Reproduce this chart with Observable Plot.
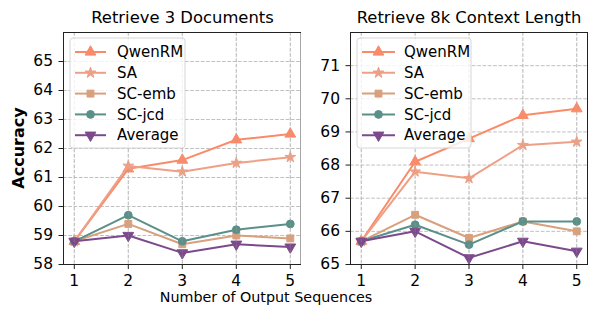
<!DOCTYPE html>
<html><head><meta charset="utf-8">
<script src="https://cdn.jsdelivr.net/npm/d3@7"></script>
<script src="https://cdn.jsdelivr.net/npm/@observablehq/plot@0.6"></script>
<style>
body{margin:0;background:#fff;font-family:"DejaVu Sans",sans-serif;}
#wrap{position:relative;width:598px;height:316px;overflow:hidden;}
#wrap > svg, #wrap > div{position:absolute;}
.t{position:absolute;font-size:15px;line-height:1;color:#000;white-space:nowrap;}
</style></head>
<body><div id="wrap"></div>
<script>
const xs = [1, 2, 3, 4, 5];
const seriesNames = ["QwenRM", "SA", "SC-emb", "SC-jcd", "Average"];
const colors = ["#fb8a68", "#eea086", "#d8a07c", "#5b9089", "#7c4a8c"];
const symbols = ["triangle", "star", "square", "circle", "triangle"];
const rotations = [0, 0, 0, 0, 180];
const radii = [4.0, 3.4, 3.9, 3.9, 4.0];

// Retrieve 3 Documents
const docs_QwenRM = [58.8, 61.3, 61.6, 62.3, 62.5];
const docs_SA     = [58.8, 61.4, 61.2, 61.5, 61.7];
const docs_SCemb  = [58.8, 59.4, 58.7, 59.0, 58.9];
const docs_SCjcd  = [58.8, 59.7, 58.8, 59.2, 59.4];
const docs_Avg    = [58.8, 59.0, 58.4, 58.7, 58.6];
// Retrieve 8k Context Length
const ctx_QwenRM = [65.7, 68.1, 68.8, 69.5, 69.7];
const ctx_SA     = [65.7, 67.8, 67.6, 68.6, 68.7];
const ctx_SCemb  = [65.7, 66.5, 65.8, 66.3, 66.0];
const ctx_SCjcd  = [65.7, 66.2, 65.6, 66.3, 66.3];
const ctx_Avg    = [65.7, 66.0, 65.2, 65.7, 65.4];

const titles = ["Retrieve 3 Documents", "Retrieve 8k Context Length"];
const yTicksDocs = [58, 59, 60, 61, 62, 63, 64, 65];
const yTicksCtx = [65, 66, 67, 68, 69, 70, 71];
const xLabel = "Number of Output Sequences";
const yLabel = "Accuracy";

function rows(arrs) {
  const out = [];
  arrs.forEach((a, i) => a.forEach((v, j) => out.push({s: seriesNames[i], i, x: xs[j], y: v})));
  return out;
}

function panel(data, yDomain, yTicks, opts) {
  const marks = [];
  marks.push(Plot.gridX(xs, {stroke: "#b0b0b0", strokeOpacity: 1, strokeDasharray: "3.7,1.6", strokeWidth: 0.8}));
  marks.push(Plot.gridY(yTicks, {stroke: "#b0b0b0", strokeOpacity: 1, strokeDasharray: "3.7,1.6", strokeWidth: 0.8}));
  seriesNames.forEach((n, i) => {
    const d = data.filter(r => r.i === i);
    marks.push(Plot.line(d, {x: "x", y: "y", stroke: colors[i], strokeWidth: 2}));
    marks.push(Plot.dot(d, {x: "x", y: "y", fill: colors[i], stroke: colors[i], strokeWidth: 1,
      symbol: () => symbols[i], rotate: rotations[i], r: radii[i]}));
  });
  marks.push(Plot.gridX(xs, {stroke: "#b0b0b0", strokeOpacity: 0.35, strokeDasharray: "3.7,1.6", strokeWidth: 0.8}));
  marks.push(Plot.frame({stroke: "#222", strokeWidth: 1}));
  marks.push(Plot.axisX(xs, {tickSize: 5, tickPadding: 5, fontSize: 15.5, label: null, stroke: "#222", fill: "#000"}));
  marks.push(Plot.axisY(yTicks, {tickSize: 4.5, tickPadding: 6, fontSize: 15.5, label: null, stroke: "#222", fill: "#000"}));
  return Plot.plot({
    width: opts.width, height: 316,
    marginLeft: opts.ml, marginRight: opts.mr, marginTop: 32, marginBottom: 52,
    style: {background: "transparent", fontFamily: "DejaVu Sans", color: "#000"},
    x: {domain: [0.8, 5.2]},
    y: {domain: yDomain},
    symbol: {type: "identity"},
    marks
  });
}

const wrap = document.getElementById("wrap");
const p1 = panel(rows([docs_QwenRM, docs_SA, docs_SCemb, docs_SCjcd, docs_Avg]), [58, 66], yTicksDocs, {width: 301, ml: 63, mr: 0.4});
p1.style.left = "0px"; p1.style.top = "0px";
wrap.appendChild(p1);
const p2 = panel(rows([ctx_QwenRM, ctx_SA, ctx_SCemb, ctx_SCjcd, ctx_Avg]), [65, 72], yTicksCtx, {width: 298, ml: 50, mr: 11});
p2.style.left = "300px"; p2.style.top = "0px";
wrap.appendChild(p2);

function text(str, x, y, extra) {
  const d = document.createElement("div");
  d.className = "t"; d.textContent = str;
  d.style.left = x + "px"; d.style.top = y + "px";
  Object.assign(d.style, extra || {});
  wrap.appendChild(d);
  return d;
}
text(titles[0], 182.5, 10, {transform: "translateX(-50%)", fontSize: "16.4px"});
text(titles[1], 469, 10, {transform: "translateX(-50%)", fontSize: "16.4px"});
text(xLabel, 266, 290, {transform: "translateX(-50%)", fontSize: "14.3px"});
text(yLabel, 19, 148, {transform: "translate(-50%,-50%) rotate(-90deg)", fontWeight: "bold", fontSize: "16px"});

// legends
function legend(x0, y0, w, h, lineX0, lineX1, textX) {
  const svg = d3.create("svg").attr("width", w + 2).attr("height", h + 2)
    .style("left", (x0 - 1) + "px").style("top", (y0 - 1) + "px").style("position", "absolute");
  svg.append("rect").attr("x", 1).attr("y", 1).attr("width", w).attr("height", h).attr("rx", 3)
    .attr("fill", "#fff").attr("fill-opacity", 0.8).attr("stroke", "#d6d6d6").attr("stroke-width", 1);
  const symMap = {triangle: d3.symbolTriangle, star: d3.symbolStar, square: d3.symbolSquare, circle: d3.symbolCircle};
  seriesNames.forEach((n, i) => {
    const cy = 1 + 14 + i * 20.8;
    svg.append("line").attr("x1", lineX0 - x0 + 1).attr("x2", lineX1 - x0 + 1).attr("y1", cy).attr("y2", cy)
      .attr("stroke", colors[i]).attr("stroke-width", 2);
    const cx = (lineX0 + lineX1) / 2 - x0 + 1;
    const r = radii[i];
    svg.append("path").attr("d", d3.symbol(symMap[symbols[i]], Math.PI * r * r)())
      .attr("transform", `translate(${cx},${cy}) rotate(${rotations[i]})`)
      .attr("fill", colors[i]).attr("stroke", colors[i]);
    svg.append("text").attr("x", textX - x0 + 1).attr("y", cy).attr("dy", "0.35em")
      .attr("font-family", "DejaVu Sans").attr("font-size", 15).text(n);
  });
  wrap.appendChild(svg.node());
}
legend(70, 38, 115, 110, 75, 106, 117);
legend(357, 38, 114, 110, 362, 395, 404);
</script></body></html>
